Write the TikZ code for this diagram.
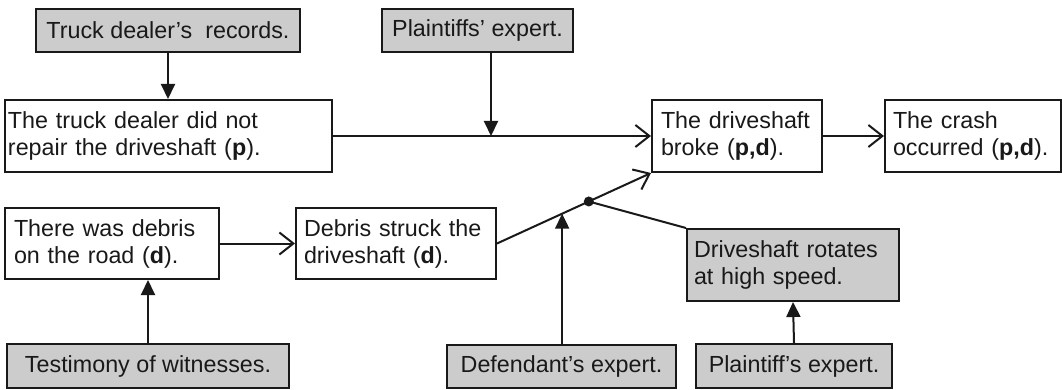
\documentclass[tikz,border=0pt]{standalone}
\usepackage{fontspec}
\setmainfont{Liberation Sans}
\usetikzlibrary{arrows.meta,calc}
\definecolor{evgray}{RGB}{204,204,204}
\definecolor{ink}{RGB}{25,25,25}
\newcommand{\diagfont}{\fontsize{23.3pt}{27pt}\selectfont}
\tikzset{
  box/.style={draw=ink, line width=2pt, rectangle, font=\diagfont, text=ink, inner ysep=0pt},
  evbox/.style={box, fill=evgray, align=center},
  claimbox/.style={box, fill=white, align=left},
  link/.style={draw=ink, line width=2pt, -{Straight Barb[length=14pt,width=22pt]}},
  evlink/.style={draw=ink, line width=2pt, -{Triangle[length=15pt,width=14pt]}},
  plainlink/.style={draw=ink, line width=2pt},
}
\begin{document}
\begin{tikzpicture}[x=1pt,y=-1pt]
\useasboundingbox (0,0) rectangle (1062,390);
% evidence boxes
\node[evbox, minimum width=264pt, minimum height=43pt] (rec) at (168,30.5) {Truck dealer’s\ \ records.};
\node[evbox, minimum width=191pt, minimum height=43pt] (pexp) at (477.5,30.5) {Plaintiffs’ expert.};
\node[evbox, minimum width=282pt, minimum height=44pt] (test) at (148,366) {Testimony of witnesses.};
\node[evbox, minimum width=229pt, minimum height=43pt] (defexp) at (561.5,366.5) {Defendant’s expert.};
\node[evbox, minimum width=196pt, minimum height=44pt] (pexpb) at (794,366) {Plaintiff’s expert.};
% claim boxes
\node[claimbox, minimum width=327pt, minimum height=72pt, text width=321pt, inner xsep=3pt] (dealer) at (168.5,136) {The truck dealer did not\\repair the driveshaft (\textbf{p}).};
\node[claimbox, minimum width=170pt, minimum height=72pt, text width=152pt, inner xsep=9pt] (broke) at (737,136) {The driveshaft\\broke (\textbf{p,d}).};
\node[claimbox, minimum width=176pt, minimum height=72pt, text width=160pt, inner xsep=8pt] (crash) at (973,136) {The crash\\occurred (\textbf{p,d}).};
\node[claimbox, minimum width=214pt, minimum height=71pt, text width=196pt, inner xsep=9pt] (road) at (112,243.5) {There was debris\\on the road (\textbf{d}).};
\node[claimbox, minimum width=200pt, minimum height=71pt, text width=184pt, inner xsep=8pt] (struck) at (396,243.5) {Debris struck the\\driveshaft (\textbf{d}).};
\node[evbox, align=left, minimum width=212pt, minimum height=72pt, text width=198pt, inner xsep=7pt] (rot) at (793,265) {Driveshaft rotates\\at high speed.};
% junctions
\coordinate (j1) at (491,136);
\coordinate (j2) at ($(struck.east)!0.423!(broke.south west)$);
\node[circle, fill=ink, inner sep=0pt, minimum size=10pt] (dot) at ($(struck.east)!0.596!(broke.south west)$) {};
% connectors
\draw[link] (dealer.east) -- (broke.west);
\draw[link] (broke.east) -- (crash.west);
\draw[link] (road.east) -- (struck.west);
\draw[link] (struck.east) -- (broke.south west);
\draw[plainlink] (dot.center) -- (rot.north west);
\draw[evlink] (rec.south) -- (rec.south |- dealer.north);
\draw[evlink] (j1 |- pexp.south) -- (j1);
\draw[evlink] (test.north) -- (test.north |- road.south);
\draw[evlink] (j2 |- defexp.north) -- (j2);
\draw[evlink] (pexpb.north) -- (rot.south);
\end{tikzpicture}
\end{document}
